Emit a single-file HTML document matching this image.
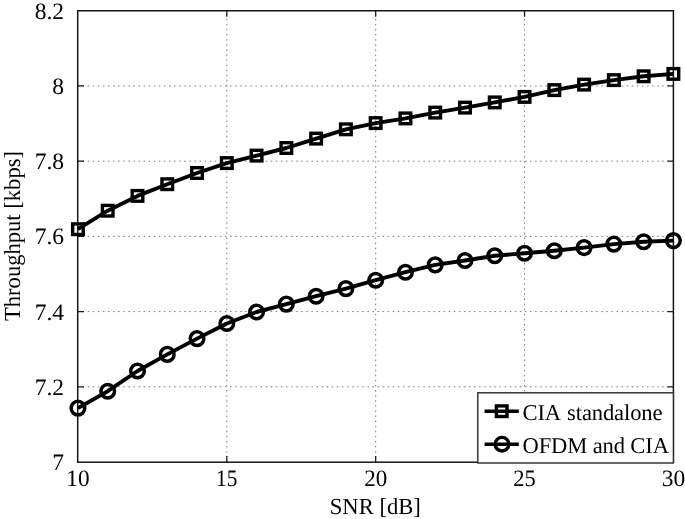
<!DOCTYPE html><html><head><meta charset="utf-8"><style>html,body{margin:0;padding:0;background:#fff;}svg{display:block;}text{font-family:"Liberation Serif",serif;text-rendering:geometricPrecision;-webkit-font-smoothing:antialiased;}svg{filter:grayscale(1);}</style></head><body>
<svg width="685" height="519" viewBox="0 0 685 519">
<rect width="685" height="519" fill="#fff"/>
<path d="M226.81 462.75V10.75M375.67 462.75V10.75M524.54 462.75V10.75M77.50 386.79H673.40M77.50 311.58H673.40M77.50 236.38H673.40M77.50 161.17H673.40M77.50 85.96H673.40" stroke="#7a7a7a" stroke-width="1" stroke-dasharray="1.5 3.585" fill="none"/>
<path d="M226.81 462.00v-6M226.81 10.75v6M375.67 462.00v-6M375.67 10.75v6M524.54 462.00v-6M524.54 10.75v6M77.95 386.79h6M673.40 386.79h-6M77.95 311.58h6M673.40 311.58h-6M77.95 236.38h6M673.40 236.38h-6M77.95 161.17h6M673.40 161.17h-6M77.95 85.96h6M673.40 85.96h-6" stroke="#1a1a1a" stroke-width="1.3" fill="none"/>
<rect x="77.7" y="10.75" width="595.70" height="451.45" fill="none" stroke="#151515" stroke-width="1.5"/>
<path d="M77.95 229.20L107.72 210.70L137.50 195.90L167.27 184.20L197.04 173.00L226.81 163.10L256.58 155.60L286.36 148.00L316.13 138.60L345.90 129.30L375.67 123.10L405.45 118.40L435.22 112.60L464.99 107.60L494.76 102.40L524.54 96.90L554.31 90.10L584.08 84.60L613.86 80.10L643.63 76.30L673.40 73.90" stroke="#000" stroke-width="3.9" fill="none" stroke-linejoin="round"/>
<path d="M77.95 408.10L107.72 391.20L137.50 371.00L167.27 354.40L197.04 338.60L226.81 323.50L256.58 312.00L286.36 304.10L316.13 296.20L345.90 288.60L375.67 280.20L405.45 272.20L435.22 264.90L464.99 260.50L494.76 255.70L524.54 253.30L554.31 250.70L584.08 247.60L613.86 244.10L643.63 241.70L673.40 240.60" stroke="#000" stroke-width="3.9" fill="none" stroke-linejoin="round"/>
<g fill="none" stroke="#000" stroke-width="3.4"><rect x="72.65" y="223.90" width="10.6" height="10.6"/><rect x="102.42" y="205.40" width="10.6" height="10.6"/><rect x="132.19" y="190.60" width="10.6" height="10.6"/><rect x="161.97" y="178.90" width="10.6" height="10.6"/><rect x="191.74" y="167.70" width="10.6" height="10.6"/><rect x="221.51" y="157.80" width="10.6" height="10.6"/><rect x="251.28" y="150.30" width="10.6" height="10.6"/><rect x="281.06" y="142.70" width="10.6" height="10.6"/><rect x="310.83" y="133.30" width="10.6" height="10.6"/><rect x="340.60" y="124.00" width="10.6" height="10.6"/><rect x="370.37" y="117.80" width="10.6" height="10.6"/><rect x="400.15" y="113.10" width="10.6" height="10.6"/><rect x="429.92" y="107.30" width="10.6" height="10.6"/><rect x="459.69" y="102.30" width="10.6" height="10.6"/><rect x="489.46" y="97.10" width="10.6" height="10.6"/><rect x="519.24" y="91.60" width="10.6" height="10.6"/><rect x="549.01" y="84.80" width="10.6" height="10.6"/><rect x="578.78" y="79.30" width="10.6" height="10.6"/><rect x="608.56" y="74.80" width="10.6" height="10.6"/><rect x="638.33" y="71.00" width="10.6" height="10.6"/><rect x="668.10" y="68.60" width="10.6" height="10.6"/></g>
<g fill="none" stroke="#000" stroke-width="3.5"><circle cx="77.95" cy="408.10" r="6.8"/><circle cx="107.72" cy="391.20" r="6.8"/><circle cx="137.50" cy="371.00" r="6.8"/><circle cx="167.27" cy="354.40" r="6.8"/><circle cx="197.04" cy="338.60" r="6.8"/><circle cx="226.81" cy="323.50" r="6.8"/><circle cx="256.58" cy="312.00" r="6.8"/><circle cx="286.36" cy="304.10" r="6.8"/><circle cx="316.13" cy="296.20" r="6.8"/><circle cx="345.90" cy="288.60" r="6.8"/><circle cx="375.67" cy="280.20" r="6.8"/><circle cx="405.45" cy="272.20" r="6.8"/><circle cx="435.22" cy="264.90" r="6.8"/><circle cx="464.99" cy="260.50" r="6.8"/><circle cx="494.76" cy="255.70" r="6.8"/><circle cx="524.54" cy="253.30" r="6.8"/><circle cx="554.31" cy="250.70" r="6.8"/><circle cx="584.08" cy="247.60" r="6.8"/><circle cx="613.86" cy="244.10" r="6.8"/><circle cx="643.63" cy="241.70" r="6.8"/><circle cx="673.40" cy="240.60" r="6.8"/></g>
<g font-size="23.5" fill="#000"><text x="77.95" y="485.8" text-anchor="middle" textLength="23.3" lengthAdjust="spacingAndGlyphs">10</text><text x="226.81" y="485.8" text-anchor="middle" textLength="21.4" lengthAdjust="spacingAndGlyphs">15</text><text x="375.67" y="485.8" text-anchor="middle" textLength="23.0" lengthAdjust="spacingAndGlyphs">20</text><text x="524.54" y="485.8" text-anchor="middle" textLength="22.5" lengthAdjust="spacingAndGlyphs">25</text><text x="673.40" y="485.8" text-anchor="middle" textLength="23.5" lengthAdjust="spacingAndGlyphs">30</text><text x="64" y="470.00" text-anchor="end">7</text><text x="64" y="394.79" text-anchor="end">7.2</text><text x="64" y="319.58" text-anchor="end">7.4</text><text x="64" y="244.38" text-anchor="end">7.6</text><text x="64" y="169.17" text-anchor="end">7.8</text><text x="64" y="93.96" text-anchor="end">8</text><text x="64" y="18.75" text-anchor="end">8.2</text></g>
<text x="375.3" y="514.4" text-anchor="middle" font-size="23" textLength="91" lengthAdjust="spacingAndGlyphs">SNR [dB]</text>
<text transform="translate(20.0 236) rotate(-90)" text-anchor="middle" font-size="23" textLength="170" lengthAdjust="spacingAndGlyphs">Throughput [kbps]</text>
<rect x="477.8" y="392.8" width="195.60" height="70.20" fill="#fff" stroke="#2a2a2a" stroke-width="1.4"/>
<path d="M484.6 411.2H518.8M484.6 444.2H518.8" stroke="#000" stroke-width="3.4"/>
<rect x="496.40" y="405.90" width="10.6" height="10.6" fill="none" stroke="#000" stroke-width="3.4"/>
<circle cx="502" cy="444.2" r="6.8" fill="none" stroke="#000" stroke-width="3.4"/>
<text x="522.5" y="420.1" font-size="22.6" textLength="140" lengthAdjust="spacing">CIA <tspan dx="1.8">standalone</tspan></text>
<text x="522.5" y="452.6" font-size="22.6" textLength="146.5" lengthAdjust="spacing">OFDM and CIA</text>
</svg></body></html>
